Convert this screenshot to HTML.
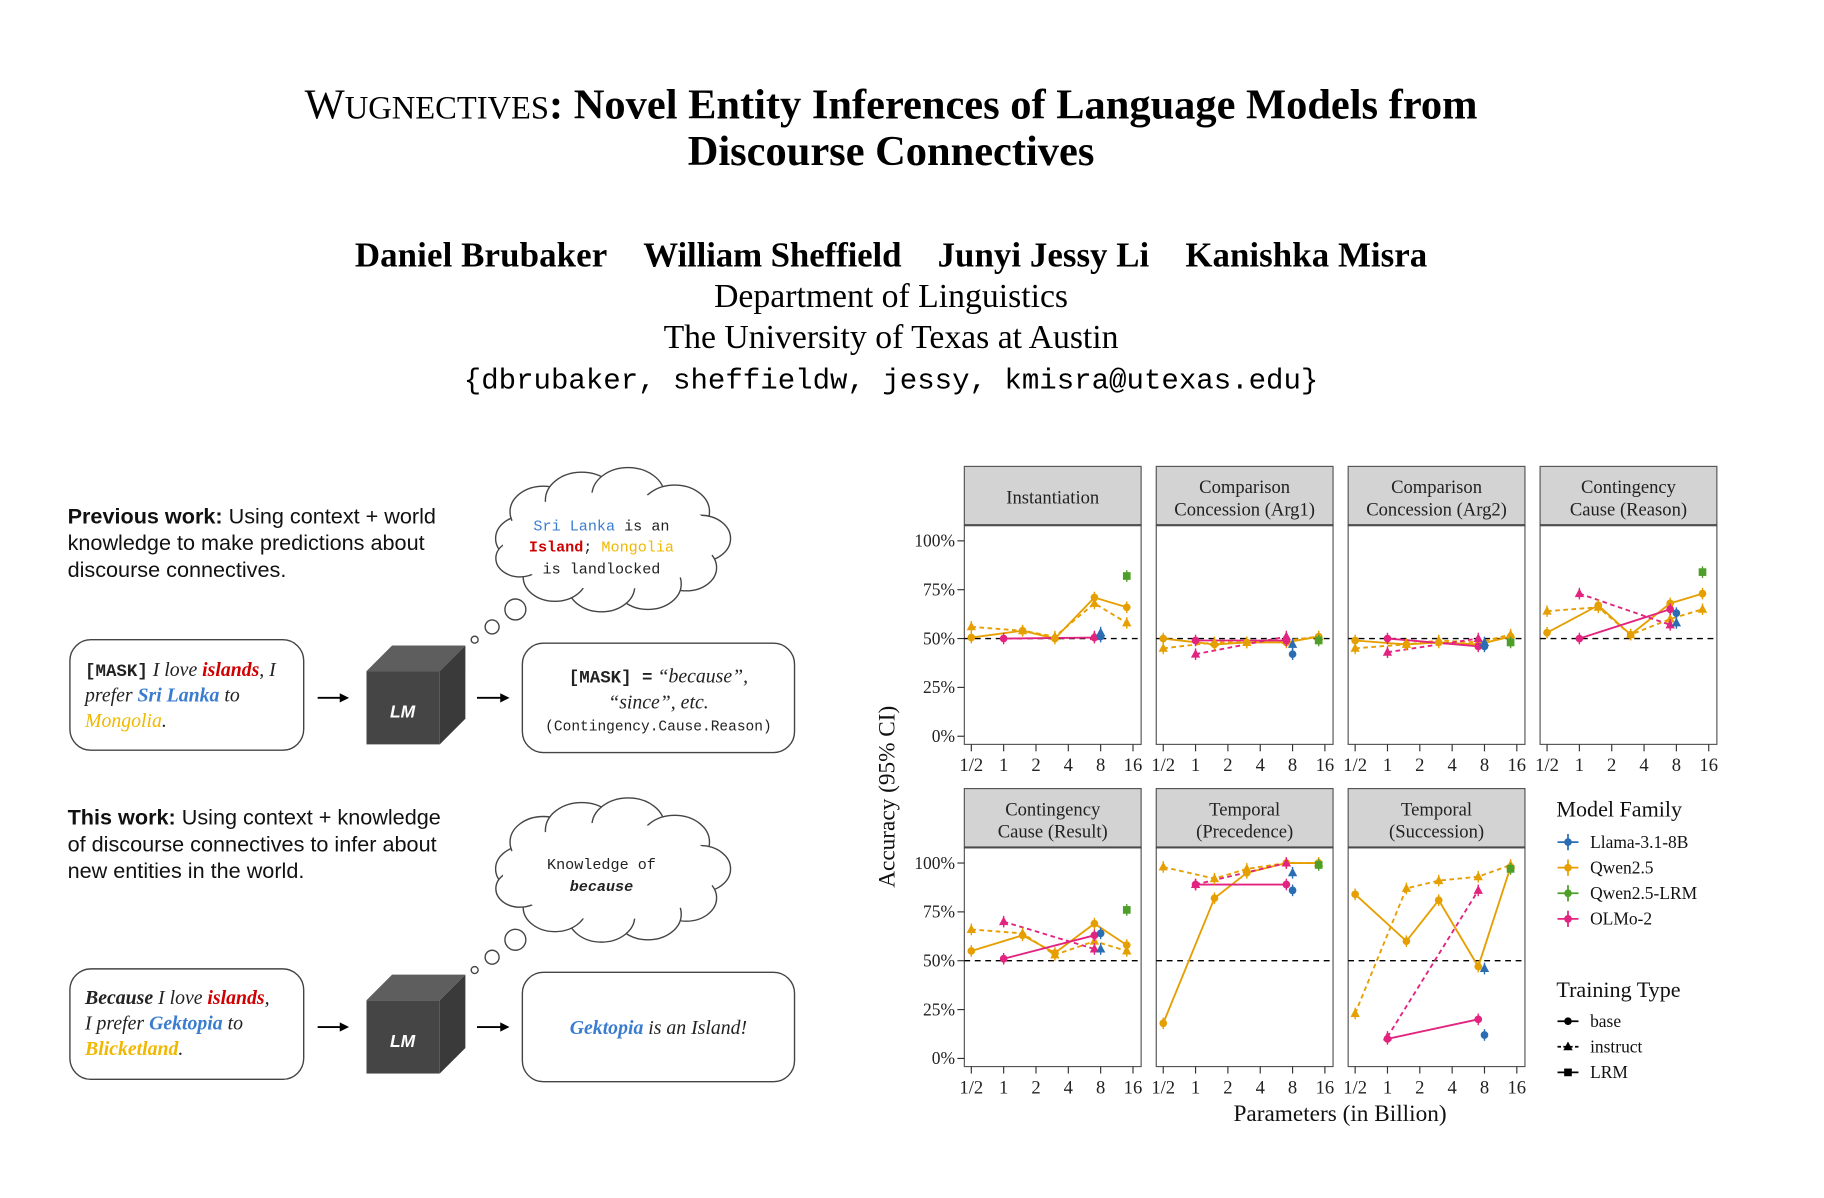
<!DOCTYPE html>
<html><head><meta charset="utf-8"><style>
html,body{margin:0;padding:0;background:#fff;}
svg{display:block;}
.t{font-family:"Liberation Serif",serif;}
.m{font-family:"Liberation Mono",monospace;}
.s{font-family:"Liberation Sans",sans-serif;}
</style></head><body>
<svg id="S" width="1824" height="1198" viewBox="0 0 1568 1030" xmlns="http://www.w3.org/2000/svg">
<rect width="1568" height="1030" fill="#fff"/>
<g class="t" text-anchor="middle" fill="#000">
<text x="766" y="102" font-size="36.5" font-weight="bold"><tspan font-weight="normal">W</tspan><tspan font-size="28" font-weight="normal">UGNECTIVES</tspan>: Novel Entity Inferences of Language Models from</text>
<text x="766" y="142" font-size="36.5" font-weight="bold">Discourse Connectives</text>
<g font-size="30" font-weight="bold" text-anchor="start">
<text x="305" y="229" textLength="217">Daniel Brubaker</text>
<text x="553" y="229" textLength="222">William Sheffield</text>
<text x="806" y="229" textLength="182">Junyi Jessy Li</text>
<text x="1019" y="229" textLength="208">Kanishka Misra</text>
</g>
<text x="766" y="264" font-size="29">Department of Linguistics</text>
<text x="766" y="299" font-size="29">The University of Texas at Austin</text>
<text x="766" y="334" font-size="25" class="m">{dbrubaker, sheffieldw, jessy, kmisra@utexas.edu}</text>
</g>
<g class="s" font-size="18.6" fill="#111">
<text x="58" y="450"><tspan font-weight="bold">Previous work:</tspan> Using context + world</text>
<text x="58" y="473">knowledge to make predictions about</text>
<text x="58" y="496">discourse connectives.</text>
<text x="58" y="709"><tspan font-weight="bold">This work:</tspan> Using context + knowledge</text>
<text x="58" y="732">of discourse connectives to infer about</text>
<text x="58" y="755">new entities in the world.</text>
</g>
<g id="clouds" fill="#fff" stroke="#444" stroke-width="1.2"></g>
<g stroke="#444" stroke-width="1.2" fill="#fff">
<rect x="60" y="550" width="201" height="95" rx="18"/>
<rect x="449" y="553" width="234" height="94" rx="18"/>
<rect x="60" y="833" width="201" height="95" rx="18"/>
<rect x="449" y="836" width="234" height="94" rx="18"/>
</g>
<g id="cubes"></g>
<g class="m" font-size="13" text-anchor="middle" fill="#222">
<text x="517" y="456"><tspan fill="#3a7dd0">Sri Lanka</tspan> is an</text>
<text x="517" y="474"><tspan fill="#d10000" font-weight="bold">Island</tspan>; <tspan fill="#f0b800">Mongolia</tspan></text>
<text x="517" y="493">is landlocked</text>
<text x="517" y="747">Knowledge of</text>
<text x="517" y="766" font-weight="bold" font-style="italic">because</text>
</g>
<g class="t" font-size="17" font-style="italic" fill="#222">
<text x="73" y="581"><tspan class="m" font-style="normal" font-size="15" font-weight="bold">[MASK]</tspan> I love <tspan fill="#d10000" font-weight="bold">islands</tspan>, I</text>
<text x="73" y="603">prefer <tspan fill="#3a7dd0" font-weight="bold">Sri Lanka</tspan> to</text>
<text x="73" y="625"><tspan fill="#f0b800">Mongolia</tspan>.</text>
<text x="73" y="863"><tspan font-weight="bold">Because</tspan> I love <tspan fill="#d10000" font-weight="bold">islands</tspan>,</text>
<text x="73" y="885">I prefer <tspan fill="#3a7dd0" font-weight="bold">Gektopia</tspan> to</text>
<text x="73" y="907"><tspan fill="#f0b800" font-weight="bold">Blicketland</tspan>.</text>
<text x="566" y="587" text-anchor="middle"><tspan class="m" font-style="normal" font-size="15" font-weight="bold">[MASK] =</tspan> “because”,</text>
<text x="566" y="609" text-anchor="middle">“since”, etc.</text>
<text x="566" y="889" text-anchor="middle"><tspan fill="#3a7dd0" font-weight="bold">Gektopia</tspan> is an Island!</text>
</g>
<text x="566" y="628" class="m" font-size="12.5" text-anchor="middle" fill="#222">(Contingency.Cause.Reason)</text>
<g id="chart"></g>
</svg>
<script>
const NS="http://www.w3.org/2000/svg";
function el(p,tag,a,txt){const e=document.createElementNS(NS,tag);for(const k in a)e.setAttribute(k,a[k]);if(txt!==undefined)e.textContent=txt;p.appendChild(e);return e;}
const cl=document.getElementById('clouds');
[[522,468],[522,752]].forEach(([cx,cy])=>{
  const bumps=[[-70,-5,20],[-55,-28,22],[-22,-38,24],[18,-42,24],[58,-28,23],[80,-5,20],[68,20,20],[35,34,22],[-5,36,22],[-45,28,21],[-75,12,16]];
  bumps.forEach(b=>el(cl,'ellipse',{cx:cx+b[0],cy:cy+b[1],rx:b[2]*1.3,ry:b[2]}));
  el(cl,'ellipse',{cx:cx+2,cy:cy-3,rx:92,ry:42,stroke:'none'});
  el(cl,'circle',{cx:443,cy:cy+56,r:9});el(cl,'circle',{cx:423,cy:cy+71,r:6});el(cl,'circle',{cx:408,cy:cy+82,r:3});
});
const cu=document.getElementById('cubes');
[577,860].forEach(y=>{
  el(cu,'polygon',{points:`315,${y} 337,${y-22} 400,${y-22} 378,${y}`,fill:'#5e5e5e'});
  el(cu,'polygon',{points:`378,${y} 400,${y-22} 400,${y+41} 378,${y+63}`,fill:'#3a3a3a'});
  el(cu,'rect',{x:315,y:y,width:63,height:63,fill:'#454545'});
  el(cu,'text',{x:346,y:y+40,'font-size':15,'font-weight':'bold','font-style':'italic','text-anchor':'middle',fill:'#fff',class:'s'},'LM');
  [[273,300],[410,438]].forEach(([a,b])=>{const ay=y+23;el(cu,'line',{x1:a,y1:ay,x2:b-6,y2:ay,stroke:'#000','stroke-width':1.6});el(cu,'polygon',{points:`${b},${ay} ${b-8},${ay-4} ${b-8},${ay+4}`,fill:'#000'});});
});
const C=document.getElementById('chart');
const col={L:'#2a6db3',Q:'#e69f00',R:'#4e9f2a',O:'#e2237f'};
const panels=[
 {t:["Instantiation"],r:0,c:0,d:{Qb:[[.5,50.5],[1.5,54],[3,50],[7,71],[14,66]],Qi:[[.5,56],[1.5,54],[3,51],[7,68],[14,58]],Ob:[[1,50],[7,50.5]],Oi:[[7,51]],Lb:[[8,51]],Li:[[8,53]],R:[[14,82]]}},
 {t:["Comparison","Concession (Arg1)"],r:0,c:1,d:{Qb:[[.5,50],[1.5,47],[3,48],[7,48],[14,51]],Qi:[[.5,45],[1.5,48],[3,48],[7,49],[14,51]],Ob:[[1,49],[7,49]],Oi:[[1,42],[7,51]],Lb:[[8,42]],Li:[[8,47]],R:[[14,49]]}},
 {t:["Comparison","Concession (Arg2)"],r:0,c:2,d:{Qb:[[.5,49],[1.5,47],[3,48],[7,47],[14,51]],Qi:[[.5,45],[1.5,47],[3,49],[7,48],[14,52]],Ob:[[1,50],[7,46]],Oi:[[1,43],[7,50]],Lb:[[8,46]],Li:[[8,48]],R:[[14,48]]}},
 {t:["Contingency","Cause (Reason)"],r:0,c:3,d:{Qb:[[.5,53],[1.5,67],[3,52],[7,68],[14,73]],Qi:[[.5,64],[1.5,66],[3,52],[7,60],[14,65]],Ob:[[1,50],[7,65]],Oi:[[1,73],[7,57]],Lb:[[8,63]],Li:[[8,58]],R:[[14,84]]}},
 {t:["Contingency","Cause (Result)"],r:1,c:0,d:{Qb:[[.5,55],[1.5,63],[3,54],[7,69],[14,58]],Qi:[[.5,66],[1.5,64],[3,53],[7,60],[14,55]],Ob:[[1,51],[7,63]],Oi:[[1,70],[7,56]],Lb:[[8,64]],Li:[[8,56]],R:[[14,76]]}},
 {t:["Temporal","(Precedence)"],r:1,c:1,d:{Qb:[[.5,18],[1.5,82],[3,95],[7,100],[14,100]],Qi:[[.5,98],[1.5,92],[3,97],[7,100],[14,100]],Ob:[[1,89],[7,89]],Oi:[[1,89],[7,100]],Lb:[[8,86]],Li:[[8,95]],R:[[14,99]]}},
 {t:["Temporal","(Succession)"],r:1,c:2,d:{Qb:[[.5,84],[1.5,60],[3,81],[7,47],[14,98]],Qi:[[.5,23],[1.5,87],[3,91],[7,93],[14,99]],Ob:[[1,10],[7,20]],Oi:[[1,11],[7,86]],Lb:[[8,12]],Li:[[8,46]],R:[[14,97]]}}
];
function marker(g,x,y,k,c){
  el(g,'line',{x1:x,y1:y-5,x2:x,y2:y+5,stroke:c,'stroke-width':1.2});
  if(k==='b')el(g,'circle',{cx:x,cy:y,r:3.3,fill:c});
  else if(k==='i')el(g,'polygon',{points:`${x},${y-4.5} ${x-4},${y+3} ${x+4},${y+3}`,fill:c});
  else el(g,'rect',{x:x-3.3,y:y-3.3,width:6.6,height:6.6,fill:c});
}
panels.forEach(p=>{
  const L=829+p.c*165, W=152, st=401+p.r*277, top=st+51, bot=top+188;
  const y100=top+13, y0=top+181;
  const X=s=>L+6+27.8*Math.log2(s/0.5), Y=v=>y0-(y0-y100)*v/100;
  el(C,'rect',{x:L,y:st,width:W,height:51,fill:'#d3d3d3',stroke:'#555','stroke-width':1});
  el(C,'line',{x1:L,y1:top,x2:L+W,y2:top,stroke:'#333','stroke-width':2.5});
  el(C,'rect',{x:L,y:top,width:W,height:188,fill:'#fff',stroke:'#555','stroke-width':1});
  if(p.t.length==1) el(C,'text',{x:L+W/2,y:st+32,'font-size':16,'text-anchor':'middle',class:'t',fill:'#222'},p.t[0]);
  else {el(C,'text',{x:L+W/2,y:st+23,'font-size':16,'text-anchor':'middle',class:'t',fill:'#222'},p.t[0]);el(C,'text',{x:L+W/2,y:st+42,'font-size':16,'text-anchor':'middle',class:'t',fill:'#222'},p.t[1]);}
  if(p.c==0){[0,25,50,75,100].forEach(v=>{el(C,'line',{x1:L-6,y1:Y(v),x2:L,y2:Y(v),stroke:'#333'});el(C,'text',{x:L-8,y:Y(v)+5,'font-size':15,'text-anchor':'end',class:'t',fill:'#222'},v+'%');});}
  [[.5,'1/2'],[1,'1'],[2,'2'],[4,'4'],[8,'8'],[16,'16']].forEach(([s,l])=>{el(C,'line',{x1:X(s),y1:bot,x2:X(s),y2:bot+6,stroke:'#333'});el(C,'text',{x:X(s),y:bot+23,'font-size':16,'text-anchor':'middle',class:'t',fill:'#222'},l);});
  el(C,'line',{x1:L,y1:Y(50),x2:L+W,y2:Y(50),stroke:'#000','stroke-dasharray':'5,4','stroke-width':1.2});
  const d=p.d;
  const line=(pts,c,dash)=>{if(pts.length<2)return;el(C,'polyline',{points:pts.map(q=>X(q[0])+','+Y(q[1])).join(' '),fill:'none',stroke:c,'stroke-width':1.6,'stroke-dasharray':dash?'4,3':'none'});};
  line(d.Qi,col.Q,1);line(d.Qb,col.Q,0);line(d.Oi,col.O,1);line(d.Ob,col.O,0);
  [['Qb',col.Q,'b'],['Qi',col.Q,'i'],['Ob',col.O,'b'],['Oi',col.O,'i'],['Lb',col.L,'b'],['Li',col.L,'i'],['R',col.R,'s']].forEach(([k,c,m])=>d[k].forEach(q=>marker(C,X(q[0]),Y(q[1]),m,c)));
});
el(C,'text',{x:0,y:0,'font-size':20,'text-anchor':'middle',class:'t',fill:'#111',transform:'translate(769,685) rotate(-90)'},'Accuracy (95% CI)');
el(C,'text',{x:1152,y:964,'font-size':20,'text-anchor':'middle',class:'t',fill:'#111'},'Parameters (in Billion)');
el(C,'text',{x:1338,y:702,'font-size':19,class:'t',fill:'#111'},'Model Family');
[['Llama-3.1-8B',col.L],['Qwen2.5',col.Q],['Qwen2.5-LRM',col.R],['OLMo-2',col.O]].forEach(([n,c],i)=>{const y=724+i*22;el(C,'line',{x1:1339,y1:y,x2:1357,y2:y,stroke:c,'stroke-width':1.5});el(C,'line',{x1:1348,y1:y-7,x2:1348,y2:y+7,stroke:c,'stroke-width':1.5});el(C,'circle',{cx:1348,cy:y,r:3.3,fill:c});el(C,'text',{x:1367,y:y+5,'font-size':15,class:'t',fill:'#111'},n);});
el(C,'text',{x:1338,y:857,'font-size':19,class:'t',fill:'#111'},'Training Type');
[['base','b',0],['instruct','i',1],['LRM','s',0]].forEach(([n,m,ds],i)=>{const y=878+i*22;el(C,'line',{x1:1339,y1:y,x2:1357,y2:y,stroke:'#000','stroke-width':1.5,'stroke-dasharray':ds?'3,2':'none'});if(m=='b')el(C,'circle',{cx:1348,cy:y,r:3.3});else if(m=='i')el(C,'polygon',{points:`1348,${y-4.5} 1344,${y+3} 1352,${y+3}`});else el(C,'rect',{x:1344.7,y:y-3.3,width:6.6,height:6.6});el(C,'text',{x:1367,y:y+5,'font-size':15,class:'t',fill:'#111'},n);});
</script>
</body></html>
